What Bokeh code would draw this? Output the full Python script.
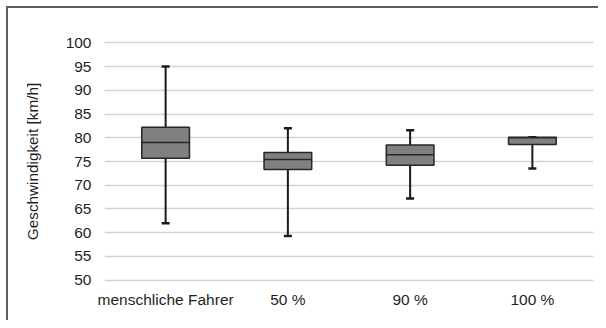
from bokeh.plotting import figure
from bokeh.models import Range1d, FixedTicker, ColumnDataSource, InlineStyleSheet
from bokeh.transform import dodge
from bokeh.embed import file_html
from bokeh.resources import INLINE

categories = ["menschliche Fahrer", "50 %", "90 %", "100 %"]
lower = [62.0, 59.3, 67.2, 73.5]
q1 = [75.7, 73.3, 74.2, 78.6]
median = [79.0, 75.4, 76.4, 80.0]
q3 = [82.2, 76.9, 78.5, 80.1]
upper = [95.0, 82.0, 81.6, 80.1]
y_ticks = [50, 55, 60, 65, 70, 75, 80, 85, 90, 95, 100]

src = ColumnDataSource(dict(cat=categories, lower=lower, q1=q1, median=median, q3=q3, upper=upper))

p = figure(x_range=categories, y_range=Range1d(49.5, 100.5), width=598, height=320,
           output_backend="svg", toolbar_location=None,
           min_border_left=104, min_border_right=5, min_border_top=40, min_border_bottom=38)
p.border_fill_color = None
p.background_fill_color = None
p.stylesheets = [InlineStyleSheet(css=(
    ":host { background-color: white;"
    " background-image: linear-gradient(#5e5e5e, #5e5e5e), linear-gradient(#5e5e5e, #5e5e5e);"
    " background-position: 6px 6px, 6px 6px;"
    " background-size: 100% 2px, 2px 100%;"
    " background-repeat: no-repeat; }"))]
p.outline_line_color = None
p.xgrid.grid_line_color = None
p.ygrid.grid_line_color = "#d4d4d4"
p.ygrid.grid_line_width = 1.5
p.yaxis.ticker = FixedTicker(ticks=y_ticks)
for ax in (p.xaxis[0], p.yaxis[0]):
    ax.axis_line_color = None
    ax.major_tick_line_color = None
    ax.minor_tick_line_color = None
    ax.major_label_text_font = "Liberation Sans"
    ax.major_label_text_font_size = "15.5px"
    ax.major_label_text_color = "#1f1f1f"
p.yaxis.major_label_standoff = 7
p.xaxis.major_label_standoff = 2
p.yaxis.axis_label = "Geschwindigkeit [km/h]"
p.yaxis.axis_label_text_font = "Liberation Sans"
p.yaxis.axis_label_text_font_size = "15.3px"
p.yaxis.axis_label_text_font_style = "normal"
p.yaxis.axis_label_text_color = "#1f1f1f"
p.yaxis.axis_label_standoff = 22

# whiskers
p.segment(x0="cat", y0="q3", x1="cat", y1="upper", source=src, line_color="#1a1a1a", line_width=2)
p.segment(x0="cat", y0="q1", x1="cat", y1="lower", source=src, line_color="#1a1a1a", line_width=2)
p.scatter(x="cat", y="upper", source=src, marker="dash", size=8, line_color="#1a1a1a", line_width=2.5)
p.scatter(x="cat", y="lower", source=src, marker="dash", size=8, line_color="#1a1a1a", line_width=2.5)
# boxes
p.vbar(x="cat", bottom="q1", top="q3", width=0.39, source=src,
       fill_color="#808080", line_color="#262626", line_width=1.5)
p.segment(x0=dodge("cat", -0.195, range=p.x_range), y0="median",
          x1=dodge("cat", 0.195, range=p.x_range), y1="median",
          source=src, line_color="#262626", line_width=1.5)

open("out.html", "w").write(file_html(p, INLINE))
